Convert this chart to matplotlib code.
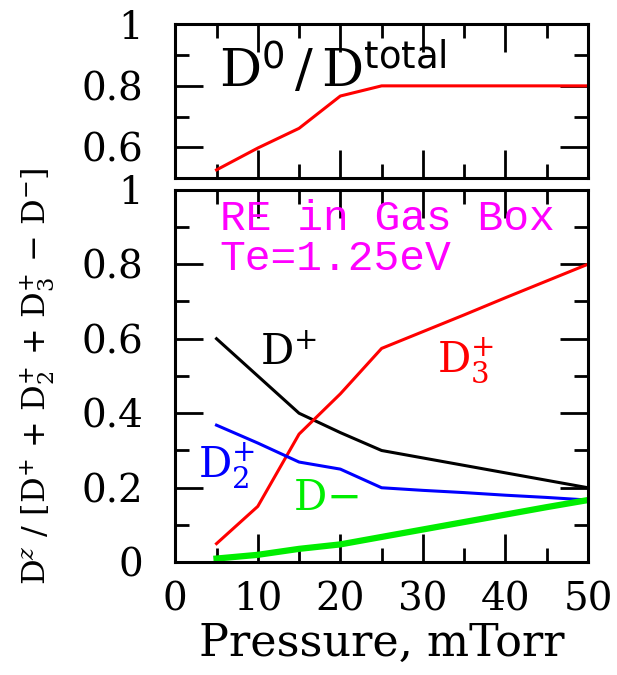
import matplotlib
matplotlib.use("Agg")
import matplotlib.pyplot as plt
from matplotlib.ticker import MultipleLocator, FixedLocator, FuncFormatter

# ---- data ----
pressure = [5, 10, 15, 20, 25, 30, 35, 40, 45, 50]
d0_frac = [0.527, 0.598, 0.662, 0.767, 0.80, 0.80, 0.80, 0.80, 0.80, 0.80]
d_plus = [0.60, 0.50, 0.40, 0.348, 0.30, 0.28, 0.26, 0.24, 0.22, 0.20]
d3_plus = [0.05, 0.15, 0.344, 0.452, 0.574, 0.619, 0.664, 0.71, 0.755, 0.80]
d2_plus = [0.368, 0.32, 0.269, 0.25, 0.20, 0.193, 0.187, 0.18, 0.174, 0.167]
d_minus = [0.01, 0.02, 0.036, 0.048, 0.068, 0.088, 0.108, 0.128, 0.148, 0.167]
x_ticks = [0, 10, 20, 30, 40, 50]

plt.rcParams['font.family'] = ['DejaVu Serif']
plt.rcParams['mathtext.fontset'] = 'dejavuserif'

fig = plt.figure(figsize=(6.17, 6.75), dpi=100)
L, R = 0.284, 0.953
ax1 = fig.add_axes([L, 0.736, R - L, 0.964 - 0.736])
ax2 = fig.add_axes([L, 0.167, R - L, 0.719 - 0.167])

def fmt(v, pos):
    if abs(v) < 1e-9:
        return "0"
    if abs(v - 1) < 1e-9:
        return "1"
    return f"{v:.1f}"

for ax in (ax1, ax2):
    ax.set_xlim(0, 50)
    ax.xaxis.set_major_locator(FixedLocator(x_ticks))
    ax.xaxis.set_minor_locator(MultipleLocator(5))
    ax.tick_params(which='both', direction='in', top=True, right=True,
                   width=2, labelsize=28)
    ax.tick_params(axis='y', which='major', pad=23)
    ax.tick_params(axis='x', which='major', pad=14)
    ax.tick_params(which='major', length=20)
    ax.tick_params(which='minor', length=10)
    for s in ax.spines.values():
        s.set_linewidth(2.2)
    ax.yaxis.set_major_formatter(FuncFormatter(fmt))

# top panel
ax1.plot(pressure, d0_frac, color='#ff0000', lw=2.2)
ax1.set_ylim(0.5, 1.0)
ax1.yaxis.set_major_locator(FixedLocator([0.6, 0.8, 1.0]))
ax1.yaxis.set_minor_locator(FixedLocator([0.7, 0.9]))
ax1.tick_params(labelbottom=False)
ax1.text(5.3, 0.795, r"D$^{\mathsf{0}}\,/\,$D$^{\mathsf{total}}$", fontsize=38,
         color='black', ha='left', va='baseline')

# bottom panel
ax2.plot(pressure, d_plus, color='black', lw=2.2)
ax2.plot(pressure, d3_plus, color='#ff0000', lw=2.2)
ax2.plot(pressure, d2_plus, color='#0000ff', lw=2.2)
ax2.plot(pressure, d_minus, color='#00ee00', lw=4.5)
ax2.set_ylim(0, 1.0)
ax2.yaxis.set_major_locator(MultipleLocator(0.2))
ax2.yaxis.set_minor_locator(MultipleLocator(0.1))
ax2.set_xlabel("Pressure, mTorr", fontsize=32, labelpad=2)
ax2.set_ylabel(r"D$^{z}$ / [D$^{+}$ + D$_{2}^{+}$ + D$_{3}^{+}$ $-$ D$^{-}$]",
               fontsize=23)
ax2.yaxis.set_label_coords(-0.286, 0.5)

ax2.text(5.4, 0.892, "RE in Gas Box", fontsize=31, color='#ff00ff',
         family='Liberation Mono', ha='left', va='baseline')
ax2.text(5.4, 0.785, "Te=1.25eV", fontsize=31, color='#ff00ff',
         family='Liberation Mono', ha='left', va='baseline')
ax2.text(10.3, 0.53, r"D$^{+}$", fontsize=30, color='black', ha='left', va='baseline')
ax2.text(31.7, 0.508, r"D$_{3}^{+}$", fontsize=30, color='#ff0000', ha='left', va='baseline')
ax2.text(2.8, 0.226, r"D$_{2}^{+}$", fontsize=30, color='#0000ff', ha='left', va='baseline')
ax2.text(14.3, 0.14, r"D$-$", fontsize=30, color='#00ee00', ha='left', va='baseline')

fig.savefig("out.png", dpi=100)
